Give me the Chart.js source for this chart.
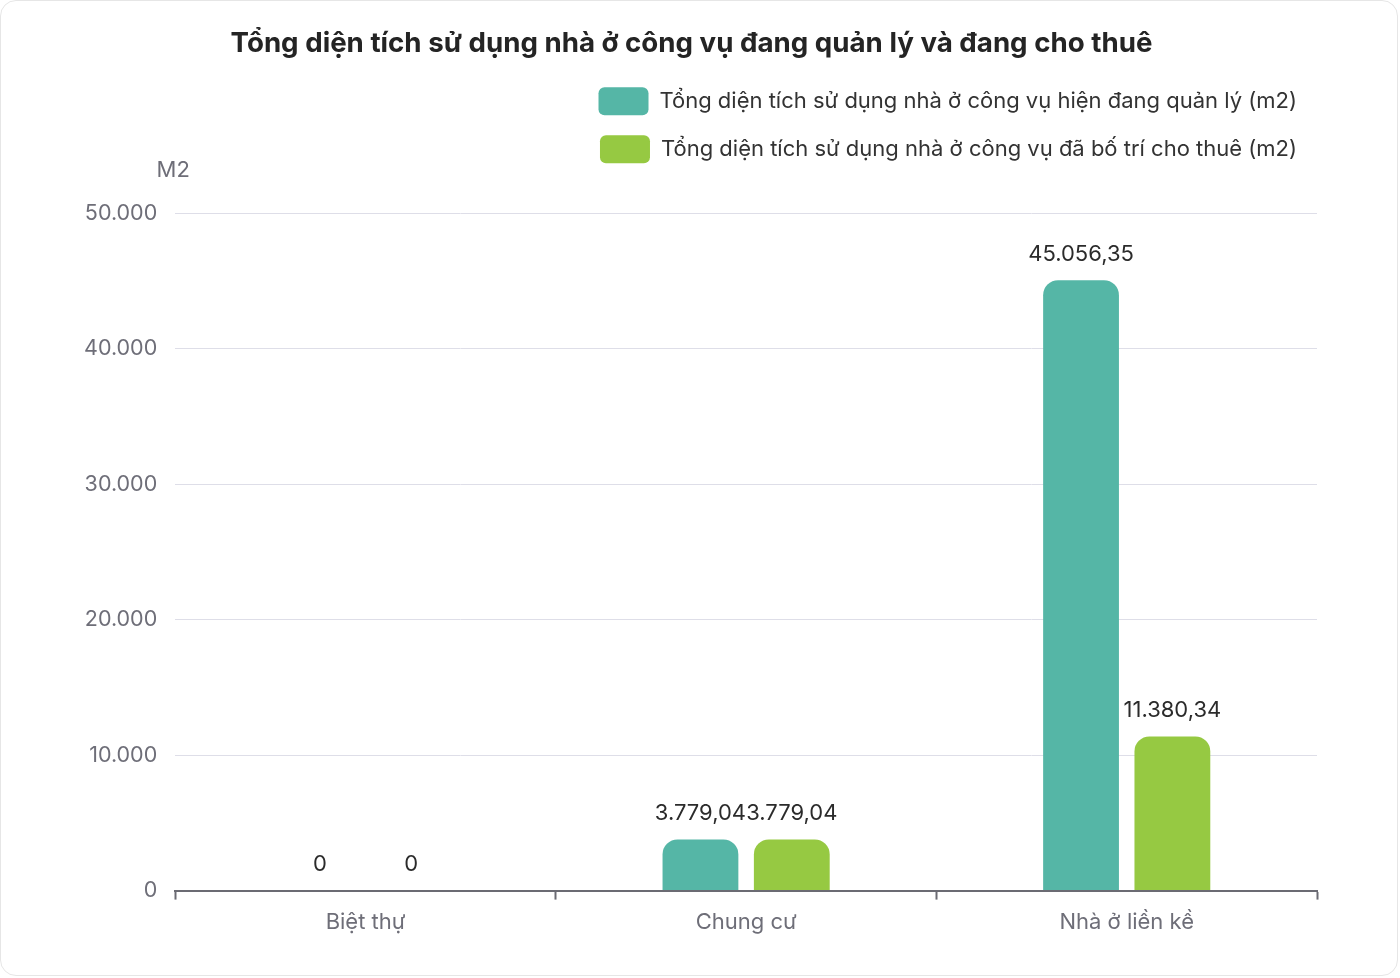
<!DOCTYPE html>
<html>
<head>
<meta charset="utf-8">
<script src="https://cdn.jsdelivr.net/npm/chart.js@4.4.1/dist/chart.umd.min.js"></script>
<style>
  html, body { margin: 0; padding: 0; background: #fff; }
  .card {
    position: absolute; left: 0; top: 0;
    width: 1398px; height: 976px;
    border: 1px solid #e6e6e6; border-radius: 16px;
    background: #fff; box-sizing: border-box;
  }
  #chart { position: absolute; left: 0; top: 0; }
</style>
</head>
<body>
<div class="card">
  <canvas id="chart" width="1398" height="976"></canvas>
</div>
<script>
// dữ liệu
const categories = ['Biệt thự', 'Chung cư', 'Nhà ở liền kề'];
const dangQuanLy = [0, 3779.04, 45056.35];
const daChoThue = [0, 3779.04, 11380.34];
const seriesNames = [
  'Tổng diện tích sử dụng nhà ở công vụ hiện đang quản lý (m2)',
  'Tổng diện tích sử dụng nhà ở công vụ đã bố trí cho thuê (m2)'
];
const yTicks = [0, 10000, 20000, 30000, 40000, 50000];

const fmt = new Intl.NumberFormat('vi-VN', { maximumFractionDigits: 2 });

// nhãn giá trị trên đầu cột
const valueLabels = {
  id: 'valueLabels',
  afterDatasetsDraw(chart) {
    const ctx = chart.ctx;
    ctx.save();
    ctx.font = '22px Inter';
    ctx.fillStyle = '#2b2b2b';
    ctx.textAlign = 'center';
    ctx.textBaseline = 'bottom';
    chart.data.datasets.forEach((ds, i) => {
      chart.getDatasetMeta(i).data.forEach((bar, j) => {
        ctx.fillText(fmt.format(ds.data[j]), bar.x, bar.y - 15);
      });
    });
    ctx.restore();
  }
};

// đơn vị trục tung
const unitLabel = {
  id: 'unitLabel',
  afterDraw(chart) {
    const ctx = chart.ctx;
    ctx.save();
    ctx.font = '22px Inter';
    ctx.fillStyle = '#6e6e78';
    ctx.textAlign = 'center';
    ctx.textBaseline = 'middle';
    ctx.fillText('M2', chart.chartArea.left - 2, chart.chartArea.top - 43);
    ctx.restore();
  }
};

// thêm khoảng trống dưới chú thích
const legendGap = {
  id: 'legendGap',
  beforeInit(chart) {
    const fit = chart.legend.fit;
    chart.legend.fit = function () {
      fit.call(this);
      this.height += 40;
    };
  }
};

new Chart(document.getElementById('chart'), {
  type: 'bar',
  data: {
    labels: categories,
    datasets: [{
      label: seriesNames[0],
      data: dangQuanLy,
      backgroundColor: '#55b6a6',
      borderRadius: 15,
      categoryPercentage: 0.48,
      barPercentage: 0.83
    }, {
      label: seriesNames[1],
      data: daChoThue,
      backgroundColor: '#96c942',
      borderRadius: 15,
      categoryPercentage: 0.48,
      barPercentage: 0.83
    }]
  },
  options: {
    responsive: false,
    animation: false,
    layout: { padding: { left: 65, right: 82, top: 26, bottom: 31 } },
    plugins: {
      title: {
        display: true,
        text: 'Tổng diện tích sử dụng nhà ở công vụ đang quản lý và đang cho thuê',
        font: { family: 'Inter', size: 27.7, weight: 'bold' },
        color: '#242424',
        padding: { top: 0, bottom: 7 }
      },
      legend: {
        position: 'top',
        align: 'end',
        labels: {
          font: { family: 'Inter', size: 22 },
          color: '#333',
          boxWidth: 50,
          boxHeight: 28,
          padding: 20,
          useBorderRadius: true,
          borderRadius: 6
        }
      },
      tooltip: { enabled: false }
    },
    scales: {
      x: {
        grid: { offset: true, drawOnChartArea: false, tickLength: 9, color: '#6b6b73', tickWidth: 2 },
        border: { color: '#6b6b73', width: 2 },
        ticks: { font: { family: 'Inter', size: 22 }, color: '#6e6e78', padding: 10 }
      },
      y: {
        min: 0,
        max: 50000,
        afterBuildTicks(axis) { axis.ticks = yTicks.map(v => ({ value: v })); },
        grid: { color: '#dedee8', drawTicks: false },
        border: { display: false },
        ticks: {
          font: { family: 'Inter', size: 21.5 },
          color: '#6e6e78',
          padding: 18,
          callback: v => fmt.format(v)
        }
      }
    }
  },
  plugins: [valueLabels, unitLabel, legendGap]
});
</script>
</body>
</html>
